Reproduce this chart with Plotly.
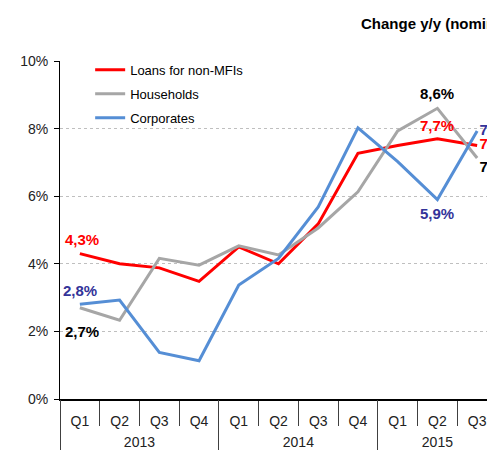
import plotly.graph_objects as go

years = ["2013"] * 4 + ["2014"] * 4 + ["2015"] * 3
quarters = ["Q1", "Q2", "Q3", "Q4", "Q1", "Q2", "Q3", "Q4", "Q1", "Q2", "Q3"]

loans = [4.3, 4.0, 3.88, 3.48, 4.5, 4.0, 5.18, 7.27, 7.5, 7.7, 7.5]
households = [2.7, 2.33, 4.16, 3.96, 4.53, 4.26, 5.06, 6.13, 7.93, 8.6, 7.13]
corporates = [2.8, 2.93, 1.38, 1.13, 3.37, 4.16, 5.68, 8.02, 7.02, 5.9, 7.93]

idx = list(range(len(quarters)))

# year groups -> centre positions and boundaries for the second label row
year_names = []
year_centres = []
year_bounds = [-0.5]
for i, yr in enumerate(years):
    if not year_names or year_names[-1] != yr:
        if year_names:
            year_bounds.append(i - 0.5)
        year_names.append(yr)
year_bounds.append(len(years) - 0.5)
for yr in year_names:
    pos = [i for i in idx if years[i] == yr]
    year_centres.append(sum(pos) / len(pos))

fig = go.Figure()
fig.add_trace(go.Scatter(x=idx, y=loans, mode="lines", name="Loans for non-MFIs",
                         line=dict(color="#FF0000", width=3), legendgroup="a"))
fig.add_trace(go.Scatter(x=idx, y=households, mode="lines", name="Households",
                         line=dict(color="#A6A6A6", width=3), legendgroup="b"))
fig.add_trace(go.Scatter(x=idx, y=corporates, mode="lines", name="Corporates",
                         line=dict(color="#558ED5", width=3), legendgroup="c"))
# empty trace so the year axis gets drawn
fig.add_trace(go.Scatter(x=year_centres, y=[None] * len(year_centres), xaxis="x2",
                         showlegend=False, hoverinfo="skip"))


def fmt(v):
    return ("%.1f%%" % v).replace(".", ",")


# value labels: (series, index, colour, vertical shift, x shift)
label_spec = [
    (loans, 0, "#FF0000", 14, 2),
    (corporates, 0, "#333399", 14, 0),
    (households, 0, "#000000", -24, 2),
    (households, 9, "#000000", 15, 0),
    (loans, 9, "#FF0000", 13, 0),
    (corporates, 9, "#333399", -14, 0),
]
for series, i, col, dy, dx in label_spec:
    fig.add_annotation(x=i, y=series[i], xref="x", yref="y", text="<b>%s</b>" % fmt(series[i]),
                       showarrow=False, yshift=dy, xshift=dx,
                       font=dict(size=15, color=col))

# end-of-line labels, cut by the right edge like in the source picture
last = idx[-1]
fig.add_trace(go.Scatter(
    x=[last, last, last],
    y=[corporates[-1], loans[-1], households[-1]],
    text=["<b>%s</b>" % fmt(v) for v in (corporates[-1], loans[-1], households[-1])],
    mode="markers+text", textposition=["middle right", "middle right", "bottom right"],
    marker=dict(size=2, color="rgba(0,0,0,0)"),
    textfont=dict(size=15, color=["#333399", "#FF0000", "#000000"]),
    cliponaxis=False, showlegend=False, hoverinfo="skip"))

fig.add_annotation(x=0.685, y=1.112, xref="paper", yref="paper", text="<b>Change y/y (nominal)</b>",
                   showarrow=False, xanchor="left", yanchor="middle",
                   font=dict(size=15, color="#000000"))
fig.add_annotation(x=-0.13, y=0.535, xref="paper", yref="paper", text="<b>%</b>",
                   showarrow=False, xanchor="right", yanchor="middle",
                   font=dict(size=14, color="#000000"))

fig.update_layout(
    width=489, height=453,
    margin=dict(l=52, r=0, t=53, b=62),
    paper_bgcolor="white", plot_bgcolor="white",
    font=dict(family="Liberation Sans, Arial, sans-serif", size=13, color="#222222"),
    showlegend=True,
    legend=dict(x=0.069, y=1.018, xanchor="left", yanchor="top", bgcolor="rgba(0,0,0,0)",
                traceorder="grouped", tracegroupgap=4, font=dict(size=13, color="#000000"),
                itemwidth=30),
    xaxis=dict(range=[-0.5, len(idx) - 0.5], tickvals=idx, ticktext=quarters,
               ticks="", showline=True, linecolor="#000000", linewidth=1.5,
               showgrid=False, zeroline=False, ticklabelstandoff=8,
               tickfont=dict(size=14, color="#222222"),
               minor=dict(tickvals=[i - 0.5 for i in idx] + [len(idx) - 0.5], ticks="outside",
                          ticklen=25, tickcolor="#404040", showgrid=False)),
    xaxis2=dict(overlaying="x", anchor="y", side="bottom", matches="x",
                tickvals=year_centres, ticktext=year_names, ticks="",
                showline=False, showgrid=False, zeroline=False, ticklabelstandoff=33,
                tickfont=dict(size=14, color="#222222"),
                minor=dict(tickvals=year_bounds, ticks="outside", ticklen=50,
                           tickcolor="#404040", showgrid=False)),
)
fig.update_yaxes(range=[0, 10], dtick=2, ticksuffix="%", showgrid=True,
                 gridcolor="#BFBFBF", griddash="dot", gridwidth=1,
                 showline=True, linecolor="#000000", linewidth=1,
                 ticks="outside", ticklen=5, tickcolor="#000000", zeroline=False,
                 ticklabelstandoff=3, tickfont=dict(size=14, color="#222222"))

fig.write_html("out.html")
